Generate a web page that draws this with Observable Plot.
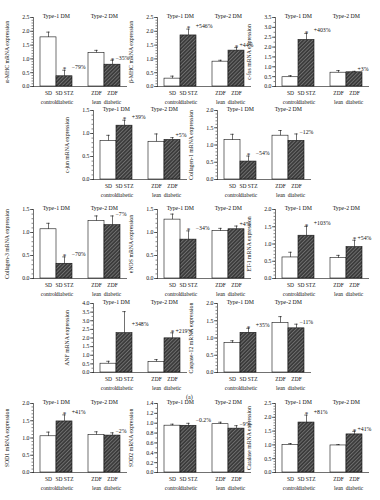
<!DOCTYPE html>
<html>
<head>
<meta charset="utf-8">
<script src="https://cdn.jsdelivr.net/npm/d3@7"></script>
<script src="https://cdn.jsdelivr.net/npm/@observablehq/plot@0.6"></script>
<style>
  body { margin: 0; background: #fff; }
  #fig { position: relative; width: 380px; height: 500px; overflow: hidden; font-family: "Liberation Serif", serif; }
  .panel { position: absolute; }
  .panel g[aria-label="x-axis tick label"] { font-size: 5.5px; }
  #figlabel { position: absolute; left: 186px; top: 394px; font-size: 6px; color: #222; }
</style>
</head>
<body>
<svg width="0" height="0" style="position:absolute">
  <defs>
    <pattern id="hatch" patternUnits="userSpaceOnUse" width="2.6" height="2.6" patternTransform="rotate(45)">
      <rect width="2.6" height="2.6" fill="#3a3a3a"></rect>
      <line x1="0.5" y1="0" x2="0.5" y2="2.6" stroke="#828282" stroke-width="0.7"></line>
    </pattern>
  </defs>
</svg>
<div id="fig"><div id="figlabel">(a)</div></div>
<script>
// ---------- data ----------
const conditions = ["SD control", "SD STZ diabetic", "ZDF lean", "ZDF diabetic"];
const tickLabels = ["SD\ncontrol", "SD STZ\ndiabetic", "ZDF\nlean", "ZDF\ndiabetic"];
const groupTitles = ["Type-1 DM", "Type-2 DM"];
const genes = ["α-MHC", "β-MHC", "c-fos", "c-jun", "Collagen-1", "Collagen-3", "eNOS", "ET-1", "ANF", "Caspase-12", "SOD1", "SOD2", "Catalase"];
const yLabels = genes.map(g => g + " mRNA expression");
const yMax  = [2.5, 2.5, 3.5, 1.5, 2.0, 1.5, 1.5, 2.0, 4.0, 2.0, 2.0, 1.4, 2.5];
const yStep = [0.5, 0.5, 0.5, 0.5, 0.5, 0.5, 0.5, 0.5, 0.5, 0.5, 0.5, 0.2, 0.5];
const meanValues = [
  [1.78, 0.37, 1.22, 0.79],
  [0.285, 1.85, 0.90, 1.30],
  [0.47, 2.36, 0.70, 0.72],
  [0.84, 1.17, 0.82, 0.86],
  [1.14, 0.52, 1.27, 1.12],
  [1.07, 0.32, 1.25, 1.16],
  [1.28, 0.845, 1.03, 1.07],
  [0.61, 1.24, 0.59, 0.91],
  [0.51, 2.28, 0.62, 1.98],
  [0.85, 1.15, 1.44, 1.28],
  [1.05, 1.48, 1.09, 1.07],
  [0.95, 0.948, 0.98, 0.89],
  [1.00, 1.81, 0.98, 1.38]
];
const errorValues = [
  [0.19, 0.22, 0.09, 0.16],
  [0.09, 0.23, 0.05, 0.11],
  [0.08, 0.33, 0.11, 0.05],
  [0.12, 0.12, 0.17, 0.05],
  [0.17, 0.16, 0.15, 0.20],
  [0.13, 0.15, 0.11, 0.20],
  [0.12, 0.19, 0.06, 0.07],
  [0.15, 0.27, 0.08, 0.20],
  [0.14, 1.25, 0.13, 0.32],
  [0.07, 0.13, 0.18, 0.12],
  [0.12, 0.19, 0.09, 0.08],
  [0.03, 0.05, 0.04, 0.06],
  [0.05, 0.27, 0.03, 0.11]
];
const changeLabels = [
  ["−79%", "−35%"], ["+546%", "+44%"], ["+403%", "+3%"], ["+39%", "+5%"],
  ["−54%", "−12%"], ["−70%", "−7%"], ["−34%", "+4%"], ["+103%", "+54%"],
  ["+348%", "+219%"], ["+35%", "−11%"], ["+41%", "−2%"], ["−0.2%", "−9%"], ["+81%", "+41%"]
];
const significant = [
  [0,1,0,1], [0,1,0,1], [0,1,0,0], [0,1,0,0], [0,1,0,0], [0,1,0,0], [0,1,0,0],
  [0,1,0,1], [0,0,0,1], [0,1,0,0], [0,1,0,0], [0,0,0,0], [0,1,0,1]
];

// ---------- layout ----------
const panelLeft = [0, 124, 242, 60, 184, 0, 124, 242, 60, 184, 0, 124, 242];
const panelTop  = [0, 0, 0, 93, 93, 192, 192, 192, 286, 286, 386, 386, 386];
const W = 130, H = 104, ML = 33, MR = 3, MT = 17, MB = 18;
const PO = 0.35;
const stepPx = (W - ML - MR) / (5 + 2 * PO);
const xDomain = [conditions[0], conditions[1], " ", conditions[2], conditions[3]];
const fmt = d3.format(".1f");
const labelLift = 0.35; // percentage label sits at most this far above the bar top

const fig = document.getElementById("fig");

genes.forEach((g, i) => {
  const rows = conditions.map((c, j) => ({
    cond: c,
    mean: meanValues[i][j],
    top: meanValues[i][j] + errorValues[i][j],
    labelY: meanValues[i][j] + Math.min(errorValues[i][j], labelLift),
    sig: significant[i][j],
    diabetic: j % 2 === 1
  }));
  const plotH = H - MT - MB;
  let minor = yStep[i] / 5;
  if (plotH * minor / yMax[i] < 2.5) minor = yStep[i] / 2;
  const eps = 1e-9;
  const plot = Plot.plot({
    width: W, height: H,
    marginLeft: ML, marginRight: MR, marginTop: MT, marginBottom: MB,
    style: { fontFamily: "'Liberation Serif', serif", fontSize: "5.8px", background: "transparent", overflow: "visible", color: "#111" },
    x: { type: "band", domain: xDomain, paddingInner: 0, paddingOuter: PO, axis: null },
    y: { domain: [0, yMax[i]], axis: null },
    marks: [
      Plot.barY(rows.filter(d => !d.diabetic), { x: "cond", y: "mean", fill: "white", stroke: "#111", strokeWidth: 0.6 }),
      Plot.barY(rows.filter(d => d.diabetic), { x: "cond", y: "mean", fill: "url(#hatch)", stroke: "#111", strokeWidth: 0.6 }),
      Plot.ruleX(rows, { x: "cond", y1: "mean", y2: "top", stroke: "#111", strokeWidth: 0.6 }),
      Plot.tickY(rows, { x: "cond", y: "top", insetLeft: stepPx / 2 - 2, insetRight: stepPx / 2 - 2, stroke: "#111", strokeWidth: 0.6 }),
      Plot.text(rows.filter(d => d.sig), { x: "cond", y: "top", text: () => "*", dy: -1, fontSize: 7 }),
      Plot.text([rows[1]], { x: "cond", y: "labelY", text: () => changeLabels[i][0], textAnchor: "start", dx: stepPx / 2 - 1, dy: -3 }),
      Plot.text([rows[3]], { x: "cond", y: "labelY", text: () => changeLabels[i][1], textAnchor: "start", dx: 3, dy: -2 }),
      Plot.text(groupTitles, { x: [conditions[1], conditions[3]], y: [yMax[i], yMax[i]], dx: -stepPx / 2, dy: -1 }),
      Plot.frame({ anchor: "left", stroke: "#111", strokeWidth: 0.6 }),
      Plot.ruleY([0], { stroke: "#111", strokeWidth: 0.6 }),
      Plot.axisY({ ticks: d3.range(0, yMax[i] + eps, minor), tickSize: 1.5, tickFormat: () => "", label: null, strokeWidth: 0.5 }),
      Plot.axisY({ ticks: d3.range(0, yMax[i] + eps, yStep[i]), tickSize: 3, tickPadding: 1, tickFormat: fmt,
                   label: yLabels[i], labelAnchor: "center", labelArrow: "none", labelOffset: 29, strokeWidth: 0.6 }),
      Plot.axisX({ ticks: conditions, tickFormat: d => tickLabels[conditions.indexOf(d)], tickSize: 0, tickPadding: 2.5,
                   lineHeight: 1.55, fontSize: 5.5, label: null })
    ]
  });
  plot.classList.add("panel");
  plot.style.left = panelLeft[i] + "px";
  plot.style.top = panelTop[i] + "px";
  fig.appendChild(plot);
});
</script>
</body>
</html>
